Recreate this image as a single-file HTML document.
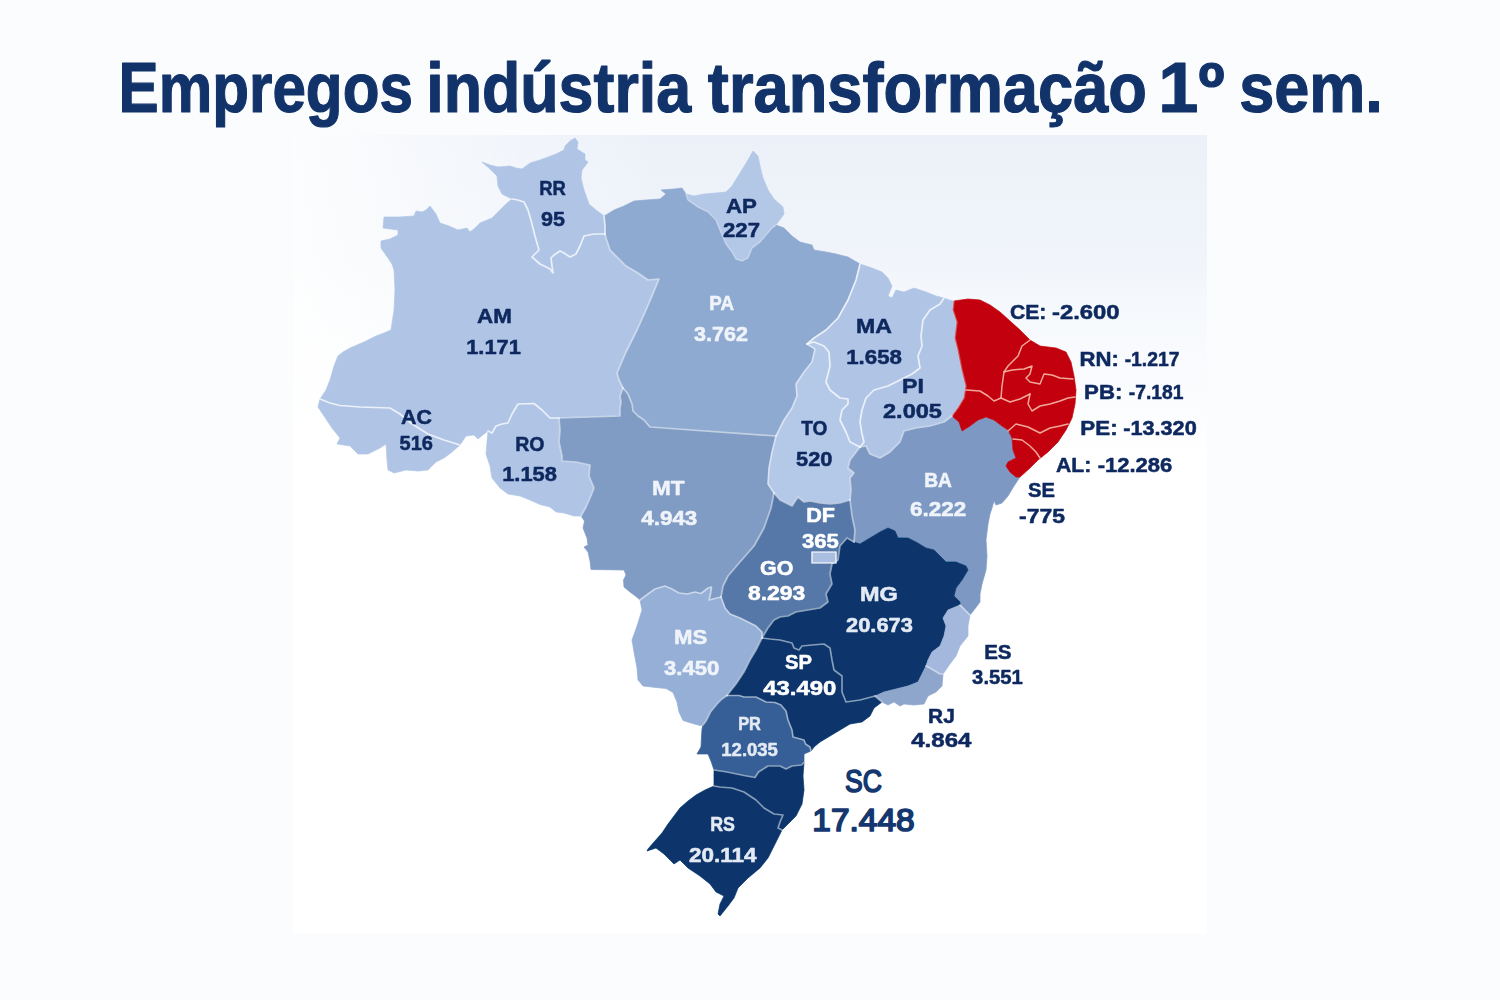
<!DOCTYPE html>
<html><head><meta charset="utf-8"><title>Empregos indústria transformação</title>
<style>
html,body{margin:0;padding:0;}
body{width:1500px;height:1000px;overflow:hidden;background:#fbfcfe;font-family:"Liberation Sans",sans-serif;}
svg{position:absolute;left:0;top:0;}
text{font-family:"Liberation Sans",sans-serif;font-weight:bold;}
</style></head><body>
<svg width="1500" height="1000" viewBox="0 0 1500 1000">
<defs>
<linearGradient id="pg" x1="0" y1="0" x2="0" y2="1">
<stop offset="0" stop-color="#ecf1f9"/><stop offset="0.144" stop-color="#f0f4fa"/><stop offset="0.206" stop-color="#f5f8fc"/><stop offset="0.33" stop-color="#fbfcfe"/><stop offset="0.40" stop-color="#ffffff"/><stop offset="1" stop-color="#ffffff"/>
</linearGradient>
<linearGradient id="hg" x1="0" y1="0" x2="1" y2="0">
<stop offset="0" stop-color="#ffffff" stop-opacity="0.85"/><stop offset="0.12" stop-color="#ffffff" stop-opacity="0.55"/><stop offset="0.4" stop-color="#ffffff" stop-opacity="0"/><stop offset="1" stop-color="#ffffff" stop-opacity="0"/>
</linearGradient>
<filter id="b1" x="-2%" y="-2%" width="104%" height="104%"><feGaussianBlur stdDeviation="0.55"/></filter>
<filter id="b2" x="-5%" y="-20%" width="110%" height="140%"><feGaussianBlur stdDeviation="0.35"/></filter>
</defs>
<rect x="0" y="0" width="1500" height="1000" fill="#fbfcfe"/>
<rect x="293" y="135" width="914" height="799" fill="url(#pg)"/>
<rect x="293" y="135" width="914" height="400" fill="url(#hg)"/>
<g filter="url(#b1)">
<g stroke-width="0.7" stroke-linejoin="round">
<path d="M512,199 L506,204 L500,210 L492,218 L480,223 L475,228 L470,232 L467,228 L458,230 L449,226 L440,223 L436,214 L430,206 L426,210 L422,212 L416,211 L414,216 L400,217 L384,217 L383,228 L398,230 L398,235 L390,239 L381,241 L381,248 L388,258 L392,264 L394,270 L395,290 L394,310 L391,330 L384,333 L376,336 L364,342 L350,348 L343,352 L338,356 L334,366 L330,380 L326,390 L320,399 L330,403 L340,405.5 L360,407 L390,408 L400,414 L412,424 L428,434 L444,440 L460,445 L466,436 L474,435 L478,439 L484,434 L488,431 L492,433 L496,426 L502,424 L508,423 L512,414 L518,404 L534,403.5 L542,410 L550,418 L559,418 L590,417 L620,416 L620,408 L621,402 L620,396 L623,388 L619,380 L617,373 L626,352 L637,330 L646,310 L652,296 L659,279 L648,280 L638,273 L626,266 L618,258 L610,250 L606,238 L605,234 L594,234 L584,236 L580,246 L576,254 L570,257 L564,253 L560,251 L554,255 L551,258 L552,266 L553,273 L550,269 L540,264 L532,257 L539,250 L537,243 L535,236 L532,224 L528,210 L524,202 L518,200 Z" fill="#b0c5e6" stroke="#b0c5e6"/>
<path d="M512,199 L502,194 L498,186 L497,176 L490,169 L482,162 L490,165 L498,167 L510,166 L516,168 L522,169 L530,163 L540,160 L548,157 L556,154 L564,150 L565,146 L570,141 L575,138 L578,142 L577,149 L585,154 L585,160 L588,162 L582,170 L581,178 L584,190 L589,204 L596,210 L604,216 L605,226 L605,234 L594,234 L584,236 L580,246 L576,254 L570,257 L564,253 L560,251 L554,255 L551,258 L552,266 L553,273 L550,269 L540,264 L532,257 L539,250 L537,243 L535,236 L532,224 L528,210 L524,202 L518,200 Z" fill="#b0c5e6" stroke="#b0c5e6"/>
<path d="M320,399 L318,407 L324,416 L332,428 L340,438 L337,444 L350,446 L358,454 L368,454 L380,448 L386,444 L387,460 L388,470 L394,473 L406,470 L418,471 L428,470 L436,462 L444,458 L452,452 L460,445 L444,440 L428,434 L412,424 L400,414 L390,408 L360,407 L340,405.5 L330,403 Z" fill="#b0c5e6" stroke="#b0c5e6"/>
<path d="M488,431 L487,442 L486,454 L490,466 L492,478 L500,488 L508,494 L520,496 L530,500 L540,504.5 L550,507 L556,512 L564,513 L574,516 L581,516 L586,507 L590,498 L594,488 L589,476 L590,465 L576,462 L562,461 L562,456 L559,442 L560,430 L559,418 L550,418 L542,410 L534,403.5 L518,404 L512,414 L508,423 L502,424 L496,426 L492,433 Z" fill="#b0c5e6" stroke="#b0c5e6"/>
<path d="M604,216 L606,215 L614,210 L624,206 L634,201 L646,200 L660,199 L666,194 L661,190 L674,189 L682,188 L686,194 L688,200 L698,207 L708,212 L716,220 L720,230 L726,244 L732,252 L736,259 L742,261 L748,258 L752,248 L760,242 L772,228 L776,225 L784,228 L792,236 L800,242 L812,245 L814,250 L826,252 L836,254 L848,257 L860,264 L856,280 L848,300 L838,318 L826,330 L814,338 L807,344 L815,349 L812,362 L804,372 L796,384 L797,396 L792,408 L784,420 L776,436 L650,427 L644,420 L638,416 L633,411 L632,404 L628,394 L623,388 L619,380 L617,373 L626,352 L637,330 L646,310 L652,296 L659,279 L648,280 L638,273 L626,266 L618,258 L610,250 L606,238 L605,234 L605,226 Z" fill="#8faad1" stroke="#8faad1"/>
<path d="M686,194 L694,196 L704,194 L716,193 L726,192 L732,186 L740,173 L748,160 L753,151 L758,156 L760,166 L763,178 L768,190 L774,199 L783,207 L784,214 L776,225 L772,228 L760,242 L752,248 L748,258 L742,261 L736,259 L732,252 L726,244 L720,230 L716,220 L708,212 L698,207 L688,200 Z" fill="#b3c7e7" stroke="#b3c7e7"/>
<path d="M559,418 L590,417 L620,416 L620,408 L621,402 L620,396 L623,388 L628,394 L632,404 L633,411 L638,416 L644,420 L650,427 L776,436 L772,452 L769,468 L768,484 L774,493 L771,508 L764,528 L754,546 L740,562 L728,576 L723,586 L721,597 L709,600 L710.5,594 L711.5,587 L708,588 L701,593.5 L695,592 L687.5,594 L679,593 L672,589 L665,586 L655,589 L648,594 L640,600 L636,596.5 L630,592 L624,587 L623.5,580 L626,575 L624,570 L591,569.5 L590,561 L588,552 L584,547 L588,545 L587,538 L583,528 L584.5,521 L581,516 L586,507 L590,498 L594,488 L589,476 L590,465 L576,462 L562,461 L562,456 L559,442 L560,430 Z" fill="#809cc4" stroke="#809cc4"/>
<path d="M860,264 L872,268 L882,272 L888,278 L892,286 L888,296 L892,298 L896,290 L904,292 L914,288 L926,292 L936,296 L944,298 L940,304 L930,310 L923,320 L921,336 L922,346 L918,356 L920,368 L912,374 L900,380 L888,386 L874,390 L866,398 L862,410 L860,422 L862,434 L864,442 L860,447 L850,442 L846,432 L840,420 L842,410 L848,404 L848,399 L840,398 L830,390 L826,382 L830,366 L829,352 L824,346 L814,342 L807,344 L814,338 L826,330 L838,318 L848,300 L856,280 Z" fill="#b0c5e6" stroke="#b0c5e6"/>
<path d="M807,344 L814,342 L824,346 L829,352 L830,366 L826,382 L830,390 L840,398 L848,399 L848,404 L842,410 L840,420 L846,432 L850,442 L860,447 L850,460 L848,468 L854,473 L850,478 L851,490 L850,500 L840,503 L830,504 L820,503 L810,501 L804,502 L798,497 L792,506 L780,500 L774,493 L768,484 L769,468 L772,452 L776,436 L784,420 L792,408 L797,396 L796,384 L804,372 L812,362 L815,349 Z" fill="#b4c8e8" stroke="#b4c8e8"/>
<path d="M944,298 L949,300 L954,301 L953,310 L957,322 L955,338 L958,350 L962,370 L966,386 L964,398 L958,408 L952,416 L944,422 L930,426 L916,428 L904,431 L900,442 L890,452 L880,458 L870,454 L866,446 L860,447 L864,442 L862,434 L860,422 L862,410 L866,398 L874,390 L888,386 L900,380 L912,374 L920,368 L918,356 L922,346 L921,336 L923,320 L930,310 L940,304 Z" fill="#b0c5e6" stroke="#b0c5e6"/>
<path d="M860,447 L866,446 L870,454 L880,458 L890,452 L900,442 L904,431 L916,428 L930,426 L944,422 L952,416 L959,422 L962,431 L970,426 L978,420 L986,417 L994,420 L1002,426 L1008,430 L1012,438 L1013,450 L1016,458 L1008,462 L1006,466 L1010,472 L1016,477 L1020,477 L1014,486 L1008,496 L1002,503 L996,505 L994,501 L992,508 L990,514 L988,524 L986,540 L987,556 L986,570 L982,584 L980,594 L980,602 L974,610 L970,615 L960,605 L960,602 L954,596 L956,588 L962,580 L968,570 L966,566 L956,562 L946,562 L940,556 L934,550 L926,548 L916,542 L908,538 L898,538 L895,531 L888,528 L880,532 L870,538 L860,544 L854,542 L855,530 L852,516 L850,500 L851,490 L850,478 L854,473 L848,468 L850,460 Z" fill="#7d99c3" stroke="#7d99c3"/>
<path d="M954,301 L968,299 L980,300 L990,305 L1000,312 L1010,321 L1020,330 L1030,340 L1040,346 L1056,348 L1066,352 L1071,362 L1074,376 L1076,390 L1075,404 L1072,418 L1066,430 L1058,442 L1048,452 L1038,460 L1030,468 L1020,477 L1016,477 L1010,472 L1006,466 L1008,462 L1016,458 L1013,450 L1012,438 L1008,430 L1002,426 L994,420 L986,417 L978,420 L970,426 L962,431 L959,422 L952,416 L958,408 L964,398 L966,386 L962,370 L958,350 L955,338 L957,322 L953,310 Z" fill="#c30008" stroke="#c30008"/>
<path d="M774,493 L780,500 L792,506 L798,497 L804,502 L810,501 L820,503 L830,504 L840,503 L850,500 L852,516 L855,530 L854,542 L847,538 L840,546 L838,560 L832,564 L830,574 L832,584 L826,594 L828,602 L820,608 L808,610 L796,612 L788,616 L780,617 L774,620 L768,628 L762,638 L762,632 L756,626 L748,622 L740,618 L730,614 L725,608 L721,597 L723,586 L728,576 L740,562 L754,546 L764,528 L771,508 Z" fill="#5778a8" stroke="#5778a8"/>
<path d="M721,597 L709,600 L710.5,594 L711.5,587 L708,588 L701,593.5 L695,592 L687.5,594 L679,593 L672,589 L665,586 L655,589 L648,594 L640,600 L642,610 L637,626 L632,640 L634,652 L637,668 L638,680 L643,686 L656,687.5 L666,688.5 L673,692.5 L677,702 L679,712 L683,720.5 L691,723 L700,725.5 L703,725 L706,721 L710.5,712 L717.5,703.5 L722,699 L727,695.5 L736,684 L744,672 L750,660 L756,650 L762,638 L762,632 L756,626 L748,622 L740,618 L730,614 L725,608 Z" fill="#95afd6" stroke="#95afd6"/>
<path d="M854,542 L860,544 L870,538 L880,532 L888,528 L895,531 L898,538 L908,538 L916,542 L926,548 L934,550 L940,556 L946,562 L956,562 L966,566 L968,570 L962,580 L956,588 L954,596 L960,602 L960,605 L948,610 L943,618 L946,626 L944,636 L940,646 L932,652 L928,660 L926,666 L922,674 L918,682 L908,686 L896,689 L884,692 L875,696 L860,700 L846,702 L842,692 L842,676 L834,670 L832,660 L830,648 L824,644 L812,645 L802,646 L799,650 L794,648 L792,643 L780,640 L770,639 L762,638 L768,628 L774,620 L780,617 L788,616 L796,612 L808,610 L820,608 L828,602 L826,594 L832,584 L830,574 L832,564 L838,560 L840,546 L847,538 Z" fill="#07356c" stroke="#07356c"/>
<path d="M960,605 L970,615 L968,626 L968,636 L960,646 L956,656 L950,664 L943,674 L940,674 L930,668 L926,666 L928,660 L932,652 L940,646 L944,636 L946,626 L943,618 L948,610 Z" fill="#a3b8dc" stroke="#a3b8dc"/>
<path d="M926,666 L930,668 L940,674 L943,674 L942,686 L936,692 L928,696 L924,704 L914,705 L904,704 L900,706 L894,702 L888,705 L882,702 L875,696 L884,692 L896,689 L908,686 L918,682 L922,674 Z" fill="#8ea6cc" stroke="#8ea6cc"/>
<path d="M762,638 L770,639 L780,640 L792,643 L794,648 L799,650 L802,646 L812,645 L824,644 L830,648 L832,660 L834,670 L842,676 L842,692 L846,702 L860,700 L875,696 L882,702 L874,708 L870,716 L862,722 L850,724 L840,730 L830,736 L820,742 L814,747 L811,751 L810,747 L805.5,744 L804,740 L793,737 L792,730 L788,720 L786,711 L781,705 L775,702.5 L766,702 L756,697 L744,697 L739,695.5 L727,695.5 L736,684 L744,672 L750,660 L756,650 Z" fill="#07356c" stroke="#07356c"/>
<path d="M727,695.5 L722,699 L717.5,703.5 L710.5,712 L706,721 L703,725 L702,729 L701.5,737 L701,747 L697,754 L708,754 L711.5,762.5 L714,770 L727,772 L744,775.5 L755,777.5 L758.5,772 L768,766 L780,766 L786,769 L792,766 L801.5,765 L804,762.5 L804,754 L811,751 L810,747 L805.5,744 L804,740 L793,737 L792,730 L788,720 L786,711 L781,705 L775,702.5 L766,702 L756,697 L744,697 L739,695.5 Z" fill="#365e96" stroke="#365e96"/>
<path d="M714,770 L714,786 L720,787 L732,788 L744,792 L756,800 L764,808 L774,814 L783,815 L780,822 L778,828 L782,830 L788,824 L796,816 L802,804 L804,790 L803,776 L804,762.5 L801.5,765 L792,766 L786,769 L780,766 L768,766 L758.5,772 L755,777.5 L744,775.5 L727,772 Z" fill="#07356c" stroke="#07356c"/>
<path d="M714,786 L705,790 L696,795 L688,801 L680,808 L674,816 L668,824 L662,833 L654,842 L648,849 L647,851 L656,848 L664,854 L674,864 L680,860 L688,868 L700,876 L710,884 L716,892 L724,896 L720,904 L718,914 L720,916 L728,906 L734,898 L738,888 L748,878 L760,868 L768,858 L774,846 L780,834 L782,830 L778,828 L780,822 L783,815 L774,814 L764,808 L756,800 L744,792 L732,788 L720,787 Z" fill="#07356c" stroke="#07356c"/>
</g>
<g fill="none" stroke="#ffffff" stroke-width="1.7" stroke-linejoin="round" stroke-linecap="round">
<path d="M605,234 L594,234 L584,236 L580,246 L576,254 L570,257 L564,253 L560,251 L554,255 L551,258 L552,266 L553,273 L550,269 L540,264 L532,257 L539,250 L537,243 L535,236 L532,224 L528,210 L524,202 L518,200 L512,199" stroke-opacity="0.75"/>
<path d="M320,399 L330,403 L340,405.5 L360,407 L390,408 L400,414 L412,424 L428,434 L444,440 L460,445" stroke-opacity="0.75"/>
<path d="M488,431 L492,433 L496,426 L502,424 L508,423 L512,414 L518,404 L534,403.5 L542,410 L550,418 L559,418" stroke-opacity="0.75"/>
<path d="M807,344 L814,342 L824,346 L829,352 L830,366 L826,382 L830,390 L840,398 L848,399 L848,404 L842,410 L840,420 L846,432 L850,442 L860,447" stroke-opacity="0.75"/>
<path d="M944,298 L940,304 L930,310 L923,320 L921,336 L922,346 L918,356 L920,368 L912,374 L900,380 L888,386 L874,390 L866,398 L862,410 L860,422 L862,434 L864,442 L860,447" stroke-opacity="0.75"/>
<path d="M860,264 L856,280 L848,300 L838,318 L826,330 L814,338 L807,344" stroke-opacity="0.75"/>
<path d="M604,216 L605,226 L605,234" stroke-opacity="0.75"/>
<path d="M686,194 L688,200 L698,207 L708,212 L716,220 L720,230 L726,244 L732,252 L736,259 L742,261 L748,258 L752,248 L760,242 L772,228 L776,225" stroke-opacity="0.25"/>
<path d="M954,301 L953,310 L957,322 L955,338 L958,350 L962,370 L966,386 L964,398 L958,408 L952,416" stroke-opacity="0.25"/>
<path d="M559,418 L590,417 L620,416 L620,408 L621,402 L620,396 L623,388" stroke-opacity="0.5"/>
<path d="M623,388 L619,380 L617,373 L626,352 L637,330 L646,310 L652,296 L659,279 L648,280 L638,273 L626,266 L618,258 L610,250 L606,238 L605,234" stroke-opacity="0.5"/>
<path d="M559,418 L560,430 L559,442 L562,456 L562,461 L576,462 L590,465 L589,476 L594,488 L590,498 L586,507 L581,516" stroke-opacity="0.5"/>
<path d="M623,388 L628,394 L632,404 L633,411 L638,416 L644,420 L650,427 L776,436" stroke-opacity="0.5"/>
<path d="M807,344 L815,349 L812,362 L804,372 L796,384 L797,396 L792,408 L784,420 L776,436" stroke-opacity="0.5"/>
<path d="M776,436 L772,452 L769,468 L768,484 L774,493" stroke-opacity="0.5"/>
<path d="M850,500 L840,503 L830,504 L820,503 L810,501 L804,502 L798,497 L792,506 L780,500 L774,493" stroke-opacity="0.5"/>
<path d="M860,447 L850,460 L848,468 L854,473 L850,478 L851,490 L850,500" stroke-opacity="0.5"/>
<path d="M854,542 L855,530 L852,516 L850,500" stroke-opacity="0.5"/>
<path d="M854,542 L847,538 L840,546 L838,560 L832,564 L830,574 L832,584 L826,594 L828,602 L820,608 L808,610 L796,612 L788,616 L780,617 L774,620 L768,628 L762,638" stroke-opacity="0.5"/>
<path d="M762,638 L762,632 L756,626 L748,622 L740,618 L730,614 L725,608 L721,597" stroke-opacity="0.5"/>
<path d="M774,493 L771,508 L764,528 L754,546 L740,562 L728,576 L723,586 L721,597" stroke-opacity="0.5"/>
<path d="M721,597 L709,600 L710.5,594 L711.5,587 L708,588 L701,593.5 L695,592 L687.5,594 L679,593 L672,589 L665,586 L655,589 L648,594 L640,600" stroke-opacity="0.5"/>
<path d="M727,695.5 L736,684 L744,672 L750,660 L756,650 L762,638" stroke-opacity="0.5"/>
<path d="M875,696 L860,700 L846,702 L842,692 L842,676 L834,670 L832,660 L830,648 L824,644 L812,645 L802,646 L799,650 L794,648 L792,643 L780,640 L770,639 L762,638" stroke-opacity="0.5"/>
<path d="M811,751 L810,747 L805.5,744 L804,740 L793,737 L792,730 L788,720 L786,711 L781,705 L775,702.5 L766,702 L756,697 L744,697 L739,695.5 L727,695.5" stroke-opacity="0.5"/>
<path d="M714,770 L727,772 L744,775.5 L755,777.5 L758.5,772 L768,766 L780,766 L786,769 L792,766 L801.5,765 L804,762.5" stroke-opacity="0.5"/>
<path d="M714,786 L720,787 L732,788 L744,792 L756,800 L764,808 L774,814 L783,815 L780,822 L778,828 L782,830" stroke-opacity="0.5"/>
<path d="M943,674 L940,674 L930,668 L926,666" stroke-opacity="0.5"/>
<path d="M703,725 L706,721 L710.5,712 L717.5,703.5 L722,699 L727,695.5" stroke-opacity="0.5"/>
<path d="M952,416 L944,422 L930,426 L916,428 L904,431 L900,442 L890,452 L880,458 L870,454 L866,446 L860,447" stroke-opacity="0.5"/>
<path d="M970,615 L960,605" stroke-opacity="0.5"/>
<path d="M882,702 L875,696" stroke-opacity="0.5"/>
<rect x="812" y="552" width="24" height="11" fill="#a9bee0" stroke-opacity="0.75"/>
</g>
<g fill="none" stroke="#f7b9ad" stroke-opacity="0.9" stroke-width="1.5" stroke-linejoin="round" stroke-linecap="round">
<path d="M1030,340 L1022,346 L1018,356 L1008,366 L1004,372 L1002,386 L1001,398"/>
<path d="M966,390 L980,391 L988,396 L994,401 L1001,398 L1010,402 L1020,399 L1030,394"/>
<path d="M1004,372 L1012,370 L1024,369 L1032,366 L1030,374 L1026,378 L1030,382 L1040,384 L1044,374 L1052,375 L1060,378 L1073,379"/>
<path d="M1030,394 L1028,404 L1032,411 L1040,406 L1050,404 L1060,401 L1068,398 L1075,397"/>
<path d="M1008,431 L1016,424 L1028,427 L1040,433 L1050,428 L1060,426 L1068,424"/>
<path d="M1013,439 L1022,440 L1030,446 L1036,452 L1040,458"/>
</g>
</g>
<g>
<text x="118.50" y="112" font-size="71" fill="#12336a" stroke="#12336a" stroke-width="1.2" stroke-linejoin="round" style="font-weight:bold" textLength="294.39" lengthAdjust="spacingAndGlyphs">Empregos</text>
<text x="426.24" y="112" font-size="71" fill="#12336a" stroke="#12336a" stroke-width="1.2" stroke-linejoin="round" style="font-weight:bold" textLength="264.87" lengthAdjust="spacingAndGlyphs">indústria</text>
<text x="707.85" y="112" font-size="71" fill="#12336a" stroke="#12336a" stroke-width="1.2" stroke-linejoin="round" style="font-weight:bold" textLength="439.10" lengthAdjust="spacingAndGlyphs">transformação</text>
<text x="1158.21" y="112" font-size="71" fill="#12336a" stroke="#12336a" stroke-width="1.2" stroke-linejoin="round" style="font-weight:bold" textLength="66.46" lengthAdjust="spacingAndGlyphs">1º</text>
<text x="1239.22" y="112" font-size="71" fill="#12336a" stroke="#12336a" stroke-width="1.2" stroke-linejoin="round" style="font-weight:bold" textLength="143.60" lengthAdjust="spacingAndGlyphs">sem.</text>
<text filter="url(#b2)" x="539.27" y="195" font-size="21" fill="#10295f" stroke="#10295f" stroke-width="0.55" stroke-linejoin="round" style="font-weight:bold" textLength="26.63" lengthAdjust="spacingAndGlyphs">RR</text>
<text filter="url(#b2)" x="541.01" y="225.5" font-size="21" fill="#10295f" stroke="#10295f" stroke-width="0.55" stroke-linejoin="round" style="font-weight:bold" textLength="23.89" lengthAdjust="spacingAndGlyphs">95</text>
<text filter="url(#b2)" x="477.02" y="322.5" font-size="21" fill="#10295f" stroke="#10295f" stroke-width="0.55" stroke-linejoin="round" style="font-weight:bold" textLength="34.79" lengthAdjust="spacingAndGlyphs">AM</text>
<text filter="url(#b2)" x="466.17" y="353.5" font-size="21" fill="#10295f" stroke="#10295f" stroke-width="0.55" stroke-linejoin="round" style="font-weight:bold" textLength="54.73" lengthAdjust="spacingAndGlyphs">1.171</text>
<text filter="url(#b2)" x="401.02" y="423.5" font-size="21" fill="#10295f" stroke="#10295f" stroke-width="0.55" stroke-linejoin="round" style="font-weight:bold" textLength="30.92" lengthAdjust="spacingAndGlyphs">AC</text>
<text filter="url(#b2)" x="399.51" y="449.5" font-size="21" fill="#10295f" stroke="#10295f" stroke-width="0.55" stroke-linejoin="round" style="font-weight:bold" textLength="33.45" lengthAdjust="spacingAndGlyphs">516</text>
<text filter="url(#b2)" x="515.24" y="451" font-size="21" fill="#10295f" stroke="#10295f" stroke-width="0.55" stroke-linejoin="round" style="font-weight:bold" textLength="29.31" lengthAdjust="spacingAndGlyphs">RO</text>
<text filter="url(#b2)" x="502.17" y="481" font-size="21" fill="#10295f" stroke="#10295f" stroke-width="0.55" stroke-linejoin="round" style="font-weight:bold" textLength="54.79" lengthAdjust="spacingAndGlyphs">1.158</text>
<text filter="url(#b2)" x="726.02" y="212.5" font-size="21" fill="#10295f" stroke="#10295f" stroke-width="0.55" stroke-linejoin="round" style="font-weight:bold" textLength="30.95" lengthAdjust="spacingAndGlyphs">AP</text>
<text filter="url(#b2)" x="723.01" y="237" font-size="21" fill="#10295f" stroke="#10295f" stroke-width="0.55" stroke-linejoin="round" style="font-weight:bold" textLength="36.96" lengthAdjust="spacingAndGlyphs">227</text>
<text filter="url(#b2)" x="709.26" y="310" font-size="21" fill="#f0f4fa" stroke="#f0f4fa" stroke-width="0.55" stroke-linejoin="round" style="font-weight:bold" textLength="24.70" lengthAdjust="spacingAndGlyphs">PA</text>
<text filter="url(#b2)" x="694.05" y="341" font-size="21" fill="#f0f4fa" stroke="#f0f4fa" stroke-width="0.55" stroke-linejoin="round" style="font-weight:bold" textLength="53.93" lengthAdjust="spacingAndGlyphs">3.762</text>
<text filter="url(#b2)" x="856.10" y="333" font-size="21" fill="#10295f" stroke="#10295f" stroke-width="0.55" stroke-linejoin="round" style="font-weight:bold" textLength="35.88" lengthAdjust="spacingAndGlyphs">MA</text>
<text filter="url(#b2)" x="846.20" y="364" font-size="21" fill="#10295f" stroke="#10295f" stroke-width="0.55" stroke-linejoin="round" style="font-weight:bold" textLength="55.76" lengthAdjust="spacingAndGlyphs">1.658</text>
<text filter="url(#b2)" x="902.06" y="393" font-size="21" fill="#10295f" stroke="#10295f" stroke-width="0.55" stroke-linejoin="round" style="font-weight:bold" textLength="21.84" lengthAdjust="spacingAndGlyphs">PI</text>
<text filter="url(#b2)" x="883.01" y="418" font-size="21" fill="#10295f" stroke="#10295f" stroke-width="0.55" stroke-linejoin="round" style="font-weight:bold" textLength="58.91" lengthAdjust="spacingAndGlyphs">2.005</text>
<text filter="url(#b2)" x="801.24" y="435" font-size="21" fill="#10295f" stroke="#10295f" stroke-width="0.55" stroke-linejoin="round" style="font-weight:bold" textLength="26.19" lengthAdjust="spacingAndGlyphs">TO</text>
<text filter="url(#b2)" x="796.02" y="465.5" font-size="21" fill="#10295f" stroke="#10295f" stroke-width="0.55" stroke-linejoin="round" style="font-weight:bold" textLength="36.43" lengthAdjust="spacingAndGlyphs">520</text>
<text filter="url(#b2)" x="652.11" y="494.5" font-size="21" fill="#f0f4fa" stroke="#f0f4fa" stroke-width="0.55" stroke-linejoin="round" style="font-weight:bold" textLength="32.48" lengthAdjust="spacingAndGlyphs">MT</text>
<text filter="url(#b2)" x="641.23" y="524.5" font-size="21" fill="#f0f4fa" stroke="#f0f4fa" stroke-width="0.55" stroke-linejoin="round" style="font-weight:bold" textLength="56.10" lengthAdjust="spacingAndGlyphs">4.943</text>
<text filter="url(#b2)" x="806.17" y="521.5" font-size="21" fill="#ffffff" stroke="#ffffff" stroke-width="0.55" stroke-linejoin="round" style="font-weight:bold" textLength="28.79" lengthAdjust="spacingAndGlyphs">DF</text>
<text filter="url(#b2)" x="802.05" y="547.5" font-size="21" fill="#ffffff" stroke="#ffffff" stroke-width="0.55" stroke-linejoin="round" style="font-weight:bold" textLength="36.87" lengthAdjust="spacingAndGlyphs">365</text>
<text filter="url(#b2)" x="760.01" y="574.5" font-size="21" fill="#ffffff" stroke="#ffffff" stroke-width="0.55" stroke-linejoin="round" style="font-weight:bold" textLength="33.30" lengthAdjust="spacingAndGlyphs">GO</text>
<text filter="url(#b2)" x="748.02" y="599.5" font-size="21" fill="#ffffff" stroke="#ffffff" stroke-width="0.55" stroke-linejoin="round" style="font-weight:bold" textLength="57.31" lengthAdjust="spacingAndGlyphs">8.293</text>
<text filter="url(#b2)" x="860.07" y="601" font-size="21" fill="#e3eaf3" stroke="#e3eaf3" stroke-width="0.55" stroke-linejoin="round" style="font-weight:bold" textLength="37.81" lengthAdjust="spacingAndGlyphs">MG</text>
<text filter="url(#b2)" x="846.02" y="632" font-size="21" fill="#e3eaf3" stroke="#e3eaf3" stroke-width="0.55" stroke-linejoin="round" style="font-weight:bold" textLength="66.95" lengthAdjust="spacingAndGlyphs">20.673</text>
<text filter="url(#b2)" x="924.25" y="486.5" font-size="21" fill="#f0f4fa" stroke="#f0f4fa" stroke-width="0.55" stroke-linejoin="round" style="font-weight:bold" textLength="27.71" lengthAdjust="spacingAndGlyphs">BA</text>
<text filter="url(#b2)" x="910.01" y="516" font-size="21" fill="#f0f4fa" stroke="#f0f4fa" stroke-width="0.55" stroke-linejoin="round" style="font-weight:bold" textLength="56.29" lengthAdjust="spacingAndGlyphs">6.222</text>
<text filter="url(#b2)" x="1028.02" y="496.5" font-size="20.8" fill="#10295f" stroke="#10295f" stroke-width="0.55" stroke-linejoin="round" style="font-weight:bold" textLength="26.95" lengthAdjust="spacingAndGlyphs">SE</text>
<text filter="url(#b2)" x="1019.01" y="522.5" font-size="20.8" fill="#10295f" stroke="#10295f" stroke-width="0.55" stroke-linejoin="round" style="font-weight:bold" textLength="45.91" lengthAdjust="spacingAndGlyphs">-775</text>
<text filter="url(#b2)" x="674.12" y="644" font-size="21" fill="#f0f4fa" stroke="#f0f4fa" stroke-width="0.55" stroke-linejoin="round" style="font-weight:bold" textLength="33.25" lengthAdjust="spacingAndGlyphs">MS</text>
<text filter="url(#b2)" x="664.05" y="675" font-size="21" fill="#f0f4fa" stroke="#f0f4fa" stroke-width="0.55" stroke-linejoin="round" style="font-weight:bold" textLength="55.31" lengthAdjust="spacingAndGlyphs">3.450</text>
<text filter="url(#b2)" x="785.02" y="669" font-size="21" fill="#ffffff" stroke="#ffffff" stroke-width="0.55" stroke-linejoin="round" style="font-weight:bold" textLength="26.92" lengthAdjust="spacingAndGlyphs">SP</text>
<text filter="url(#b2)" x="763.22" y="695" font-size="21" fill="#ffffff" stroke="#ffffff" stroke-width="0.55" stroke-linejoin="round" style="font-weight:bold" textLength="73.17" lengthAdjust="spacingAndGlyphs">43.490</text>
<text filter="url(#b2)" x="738.22" y="730" font-size="19" fill="#e3eaf3" stroke="#e3eaf3" stroke-width="0.55" stroke-linejoin="round" style="font-weight:bold" textLength="22.67" lengthAdjust="spacingAndGlyphs">PR</text>
<text filter="url(#b2)" x="721.32" y="755.5" font-size="19" fill="#e3eaf3" stroke="#e3eaf3" stroke-width="0.55" stroke-linejoin="round" style="font-weight:bold" textLength="56.60" lengthAdjust="spacingAndGlyphs">12.035</text>
<text filter="url(#b2)" x="984.16" y="659" font-size="20.8" fill="#10295f" stroke="#10295f" stroke-width="0.55" stroke-linejoin="round" style="font-weight:bold" textLength="27.36" lengthAdjust="spacingAndGlyphs">ES</text>
<text filter="url(#b2)" x="972.11" y="684" font-size="20.8" fill="#10295f" stroke="#10295f" stroke-width="0.55" stroke-linejoin="round" style="font-weight:bold" textLength="50.80" lengthAdjust="spacingAndGlyphs">3.551</text>
<text filter="url(#b2)" x="928.14" y="722.5" font-size="20.8" fill="#10295f" stroke="#10295f" stroke-width="0.55" stroke-linejoin="round" style="font-weight:bold" textLength="26.69" lengthAdjust="spacingAndGlyphs">RJ</text>
<text filter="url(#b2)" x="911.22" y="747" font-size="20.8" fill="#10295f" stroke="#10295f" stroke-width="0.55" stroke-linejoin="round" style="font-weight:bold" textLength="60.24" lengthAdjust="spacingAndGlyphs">4.864</text>
<text filter="url(#b2)" x="710.23" y="831" font-size="21" fill="#e3eaf3" stroke="#e3eaf3" stroke-width="0.55" stroke-linejoin="round" style="font-weight:bold" textLength="24.73" lengthAdjust="spacingAndGlyphs">RS</text>
<text filter="url(#b2)" x="689.01" y="862" font-size="21" fill="#e3eaf3" stroke="#e3eaf3" stroke-width="0.55" stroke-linejoin="round" style="font-weight:bold" textLength="67.50" lengthAdjust="spacingAndGlyphs">20.114</text>
<text filter="url(#b2)" x="1010.01" y="318.7" font-size="20.8" fill="#10295f" stroke="#10295f" stroke-width="0.55" stroke-linejoin="round" style="font-weight:bold" textLength="36.40" lengthAdjust="spacingAndGlyphs">CE:</text>
<text filter="url(#b2)" x="1052.01" y="318.7" font-size="20.8" fill="#10295f" stroke="#10295f" stroke-width="0.55" stroke-linejoin="round" style="font-weight:bold" textLength="67.62" lengthAdjust="spacingAndGlyphs">-2.600</text>
<text filter="url(#b2)" x="1079.44" y="366" font-size="20.8" fill="#10295f" stroke="#10295f" stroke-width="0.55" stroke-linejoin="round" style="font-weight:bold" textLength="39.35" lengthAdjust="spacingAndGlyphs">RN:</text>
<text filter="url(#b2)" x="1124.67" y="366" font-size="20.8" fill="#10295f" stroke="#10295f" stroke-width="0.55" stroke-linejoin="round" style="font-weight:bold" textLength="54.83" lengthAdjust="spacingAndGlyphs">-1.217</text>
<text filter="url(#b2)" x="1084.10" y="399" font-size="20.8" fill="#10295f" stroke="#10295f" stroke-width="0.55" stroke-linejoin="round" style="font-weight:bold" textLength="38.24" lengthAdjust="spacingAndGlyphs">PB:</text>
<text filter="url(#b2)" x="1128.80" y="399" font-size="20.8" fill="#10295f" stroke="#10295f" stroke-width="0.55" stroke-linejoin="round" style="font-weight:bold" textLength="54.70" lengthAdjust="spacingAndGlyphs">-7.181</text>
<text filter="url(#b2)" x="1080.36" y="435" font-size="20.8" fill="#10295f" stroke="#10295f" stroke-width="0.55" stroke-linejoin="round" style="font-weight:bold" textLength="37.26" lengthAdjust="spacingAndGlyphs">PE:</text>
<text filter="url(#b2)" x="1123.19" y="435" font-size="20.8" fill="#10295f" stroke="#10295f" stroke-width="0.55" stroke-linejoin="round" style="font-weight:bold" textLength="73.55" lengthAdjust="spacingAndGlyphs">-13.320</text>
<text filter="url(#b2)" x="1055.90" y="472.2" font-size="20.8" fill="#10295f" stroke="#10295f" stroke-width="0.55" stroke-linejoin="round" style="font-weight:bold" textLength="35.30" lengthAdjust="spacingAndGlyphs">AL:</text>
<text filter="url(#b2)" x="1097.69" y="472.2" font-size="20.8" fill="#10295f" stroke="#10295f" stroke-width="0.55" stroke-linejoin="round" style="font-weight:bold" textLength="74.64" lengthAdjust="spacingAndGlyphs">-12.286</text>
<text x="845.01" y="792" font-size="32" fill="#14376f" stroke="#14376f" stroke-width="1.7" stroke-linejoin="round" style="font-weight:normal" textLength="36.91" lengthAdjust="spacingAndGlyphs">SC</text>
<text x="812.37" y="831" font-size="32" fill="#14376f" stroke="#14376f" stroke-width="1.7" stroke-linejoin="round" style="font-weight:normal" textLength="102.21" lengthAdjust="spacingAndGlyphs">17.448</text>
</g>
</svg>
</body></html>
